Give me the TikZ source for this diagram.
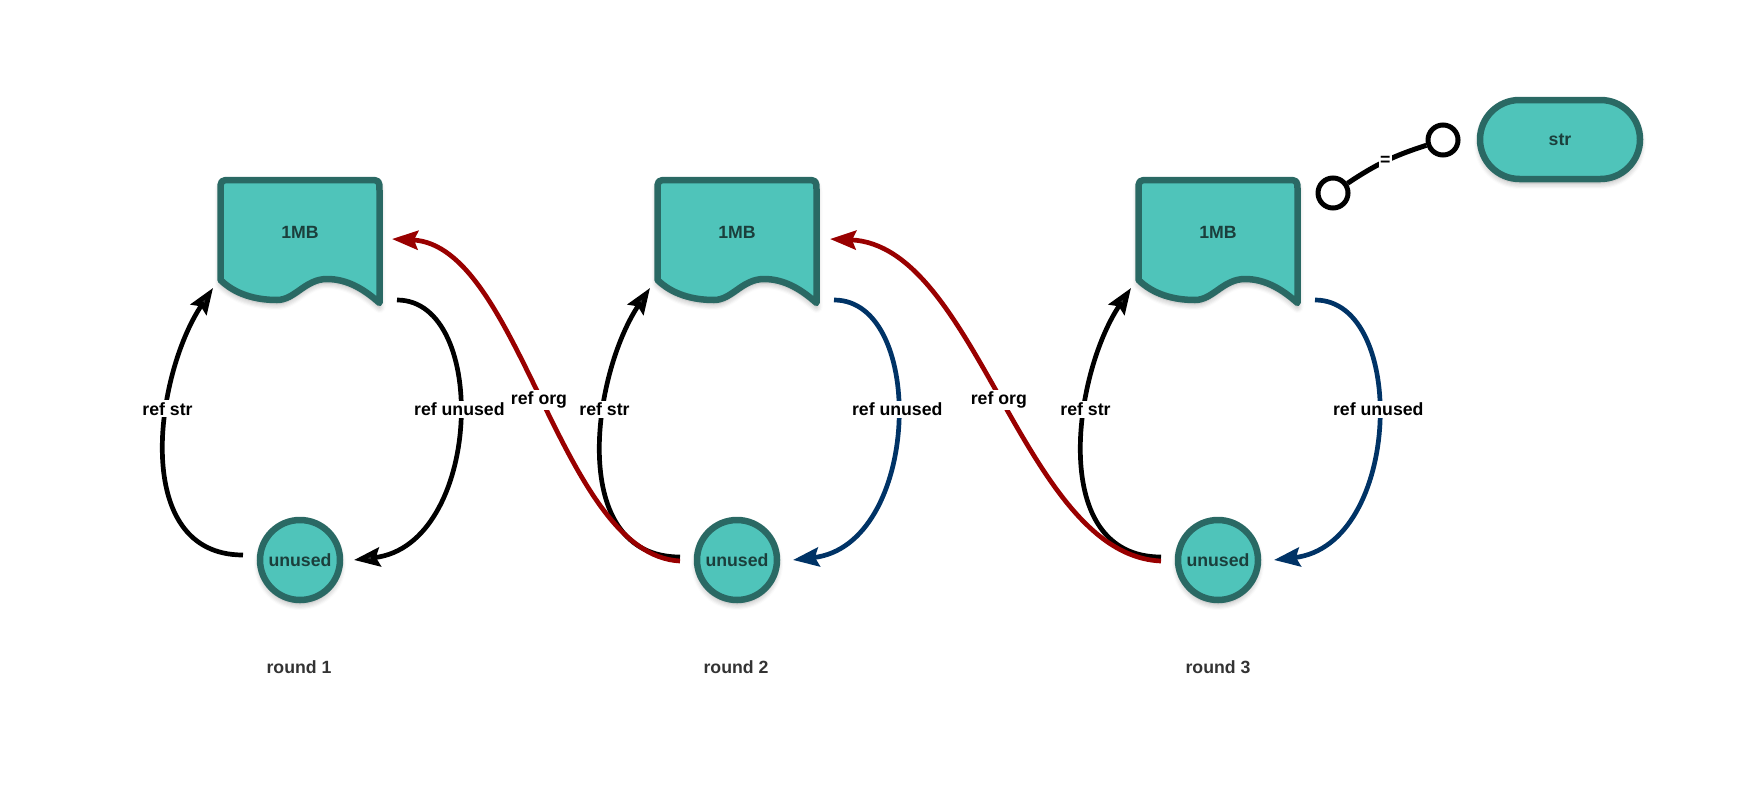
\documentclass[tikz,border=0pt]{standalone}
\usepackage{fontspec}
\setmainfont{Liberation Sans}
\usetikzlibrary{arrows.meta,shapes.misc,shadows.blur,calc}
\definecolor{tealfill}{HTML}{4FC4BA}
\definecolor{tealdark}{HTML}{2A6964}
\definecolor{redarr}{HTML}{990000}
\definecolor{bluearr}{HTML}{003366}
\definecolor{nodetext}{HTML}{1B3F3C}
\newcommand\lblfont{\fontsize{17.7}{20}\selectfont\bfseries}
\newcommand\mydocshape[1]{%
  \draw[docshape, shift={(#1)}] (-79.5,-41) .. controls (-79.5,-52) .. (-68.5,-52)
    -- (68.5,-52) .. controls (79.5,-52) .. (79.5,-41) -- (79.5,71)
    .. controls (65,58) and (48,47) .. (27,47)
    .. controls (5,47) and (-5,68) .. (-23,68)
    .. controls (-45,68) and (-65,62) .. (-79.5,48) -- cycle;}
\tikzset{
  softshadow/.style={blur shadow={shadow xshift=0pt, shadow yshift=-4pt, shadow blur radius=6pt, shadow opacity=35, shadow blur steps=6}},
  docshape/.style={fill=tealfill, draw=tealdark, line width=6.5pt, line join=round, softshadow},
  doctext/.style={font=\lblfont, text=nodetext, inner sep=0pt},
  unusednode/.style={circle, fill=tealfill, draw=tealdark, line width=6.5pt, minimum size=80pt, inner sep=0pt, outer sep=0pt, font=\lblfont, text=nodetext, softshadow},
  pillnode/.style={rounded rectangle, fill=tealfill, draw=tealdark, line width=6.5pt, minimum width=160pt, minimum height=79pt, inner sep=0pt, font=\lblfont, text=nodetext, softshadow},
  lolly/.style={circle, draw=black, fill=white, line width=5pt, minimum size=30pt, inner sep=0pt},
  conn/.style={line width=4.7pt, -{Stealth[length=26pt, width=19pt, inset=4pt]}},
  elabel/.style={fill=white, font=\lblfont, text=black, inner sep=2pt},
  roundlabel/.style={font=\lblfont, text=black!80},
}
\begin{document}
\begin{tikzpicture}[x=1pt, y=-1pt]
\useasboundingbox (0,0) rectangle (1747,787);
% documents
\mydocshape{300,232}
\mydocshape{737,232}
\mydocshape{1218,232}
\node[doctext] (d1) at (300,232) {1MB};
\node[doctext] (d2) at (737,232) {1MB};
\node[doctext] (d3) at (1218,232) {1MB};
% unused circles
\node[unusednode] (u1) at (300,560) {unused};
\node[unusednode] (u2) at (737,560) {unused};
\node[unusednode] (u3) at (1218,560) {unused};
% round labels
\node[roundlabel] (r1) at (299,667) {round 1};
\node[roundlabel] (r2) at (736,667) {round 2};
\node[roundlabel] (r3) at (1218,667) {round 3};
% str pill and lollipop
\node[pillnode] (str) at (1560,139.5) {str};
\node[lolly] (la) at (1333,193) {};
\node[lolly] (lb) at (1443,140) {};
\draw[line width=5pt] (la) to[bend left=8] node[fill=white, inner sep=1pt, font=\lblfont]{=} (lb);
% round 1
\draw[conn] ($(u1)+(-57,-5)$) .. controls +(-113,0) and +(-58,87) .. ($(d1)+(-87,56)$) node[elabel,pos=0.63]{ref str};
\draw[conn] ($(d1)+(97,68)$) .. controls +(93,0) and +(128,-15) .. ($(u1)+(54,0)$) node[elabel,pos=0.46]{ref unused};
% round 2
\draw[conn] ($(u2)+(-57,-3)$) .. controls +(-113,0) and +(-58,87) .. ($(d2)+(-87,56)$) node[elabel,pos=0.63]{ref str};
\draw[conn, draw=bluearr] ($(d2)+(97,68)$) .. controls +(93,0) and +(128,-15) .. ($(u2)+(56,0)$) node[elabel,pos=0.46]{ref unused};
\draw[conn, draw=redarr] ($(u2)+(-57,1)$) .. controls +(-120,-6) and +(128,6) .. ($(d1)+(92,7)$) node[elabel,pos=0.5]{ref org};
% round 3
\draw[conn] ($(u3)+(-57,-3)$) .. controls +(-113,0) and +(-58,87) .. ($(d3)+(-87,56)$) node[elabel,pos=0.63]{ref str};
\draw[conn, draw=bluearr] ($(d3)+(97,68)$) .. controls +(93,0) and +(128,-15) .. ($(u3)+(56,0)$) node[elabel,pos=0.46]{ref unused};
\draw[conn, draw=redarr] ($(u3)+(-57,1)$) .. controls +(-138,-6) and +(147,6) .. ($(d2)+(93,7)$) node[elabel,pos=0.5]{ref org};
\end{tikzpicture}
\end{document}
